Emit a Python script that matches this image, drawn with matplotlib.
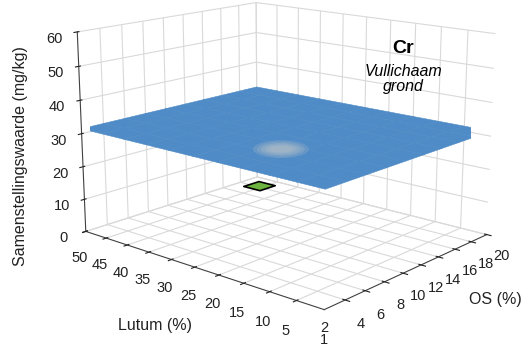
import numpy as np
import matplotlib.pyplot as plt
from matplotlib.patches import Ellipse

# categories along the two floor axes
lutum = [2, 5, 10, 15, 20, 25, 30, 35, 40, 45, 50]
os_pct = [2, 4, 6, 8, 10, 12, 14, 16, 18, 20]
# samenstellingswaarde Cr (mg/kg) per (OS, lutum) combination
cr = [[31.5] * len(lutum) for _ in os_pct]
z_ticks = [0, 10, 20, 30, 40, 50, 60]

# small green patch on the floor (category positions)
patch_os = [7.7, 8.6]
patch_lutum = [8.8, 9.6]

plt.rcParams['font.family'] = ['Liberation Sans', 'DejaVu Sans']

fig = plt.figure(figsize=(5.29, 3.46), dpi=100)
ax = fig.add_subplot(projection='3d', computed_zorder=False)
ax.set_position([0.0, 0.045, 1.06, 1.1])
ax.set_proj_type('persp', focal_length=0.6)

xi = np.arange(len(os_pct))
yi = np.arange(len(lutum))
X, Y = np.meshgrid(xi, yi, indexing='ij')
Z = np.array(cr)
ax.plot_surface(X, Y, Z, color='#4f8bc6', shade=False, linewidth=0.4,
                edgecolor='#4f8bc6', antialiased=True, zorder=2)

px, py = np.meshgrid(patch_os, patch_lutum)
ax.plot_surface(px, py, np.zeros_like(px), color='#6db33f', edgecolor='black',
                linewidth=1.2, shade=False, zorder=3)

ax.set_xlim(0, len(os_pct) - 1)
ax.set_ylim(0, len(lutum) - 1)
ax.set_zlim(0, 60)
ax.set_xticks(xi[1:])
ax.set_xticklabels([str(v) for v in os_pct[1:]])
ax.set_yticks(yi[1:])
ax.set_yticklabels([str(v) for v in lutum[1:]], ha='left')
ax.set_zticks(z_ticks)
ax.tick_params(labelsize=10.5, pad=0, colors='#222222')
ax.tick_params(axis='y', pad=3)
# shared corner labels
ax.text(0, 0, -3, '2\n1', ha='center', va='top', fontsize=10.5, color='#222222',
        linespacing=0.85)

for axis in (ax.xaxis, ax.yaxis, ax.zaxis):
    axis.set_pane_color((1, 1, 1, 1))
    axis.line.set_color('#404040')
    axis._axinfo['grid']['color'] = '#d9d9d9'
    axis._axinfo['grid']['linewidth'] = 0.8

ax.view_init(elev=14.5, azim=-139)
ax.set_box_aspect((1.2, 1.45, 0.95), zoom=1.17)

# soft light spot on the plane
for w, h in [(56, 18), (48, 15), (40, 12), (32, 9), (24, 7)]:
    fig.patches.append(Ellipse((0.531, 0.569), w / 529, h / 346, transform=fig.transFigure,
                               facecolor='#d9d4c8', edgecolor='none', alpha=0.16, zorder=5))

fig.text(0.038, 0.55, 'Samenstellingswaarde (mg/kg)', rotation=90, fontsize=11.5,
         ha='center', va='center', color='#222222')
fig.text(0.293, 0.06, 'Lutum (%)', fontsize=11.5, ha='center', va='center', color='#222222')
fig.text(0.936, 0.133, 'OS (%)', fontsize=11.5, ha='center', va='center', color='#222222')

fig.text(0.762, 0.861, 'Cr', fontsize=14, fontweight='bold', ha='center', va='center')
fig.text(0.762, 0.792, 'Vullichaam', fontsize=11.5, style='italic', ha='center', va='center')
fig.text(0.762, 0.749, 'grond', fontsize=11.5, style='italic', ha='center', va='center')

fig.savefig('out.png', dpi=100)
